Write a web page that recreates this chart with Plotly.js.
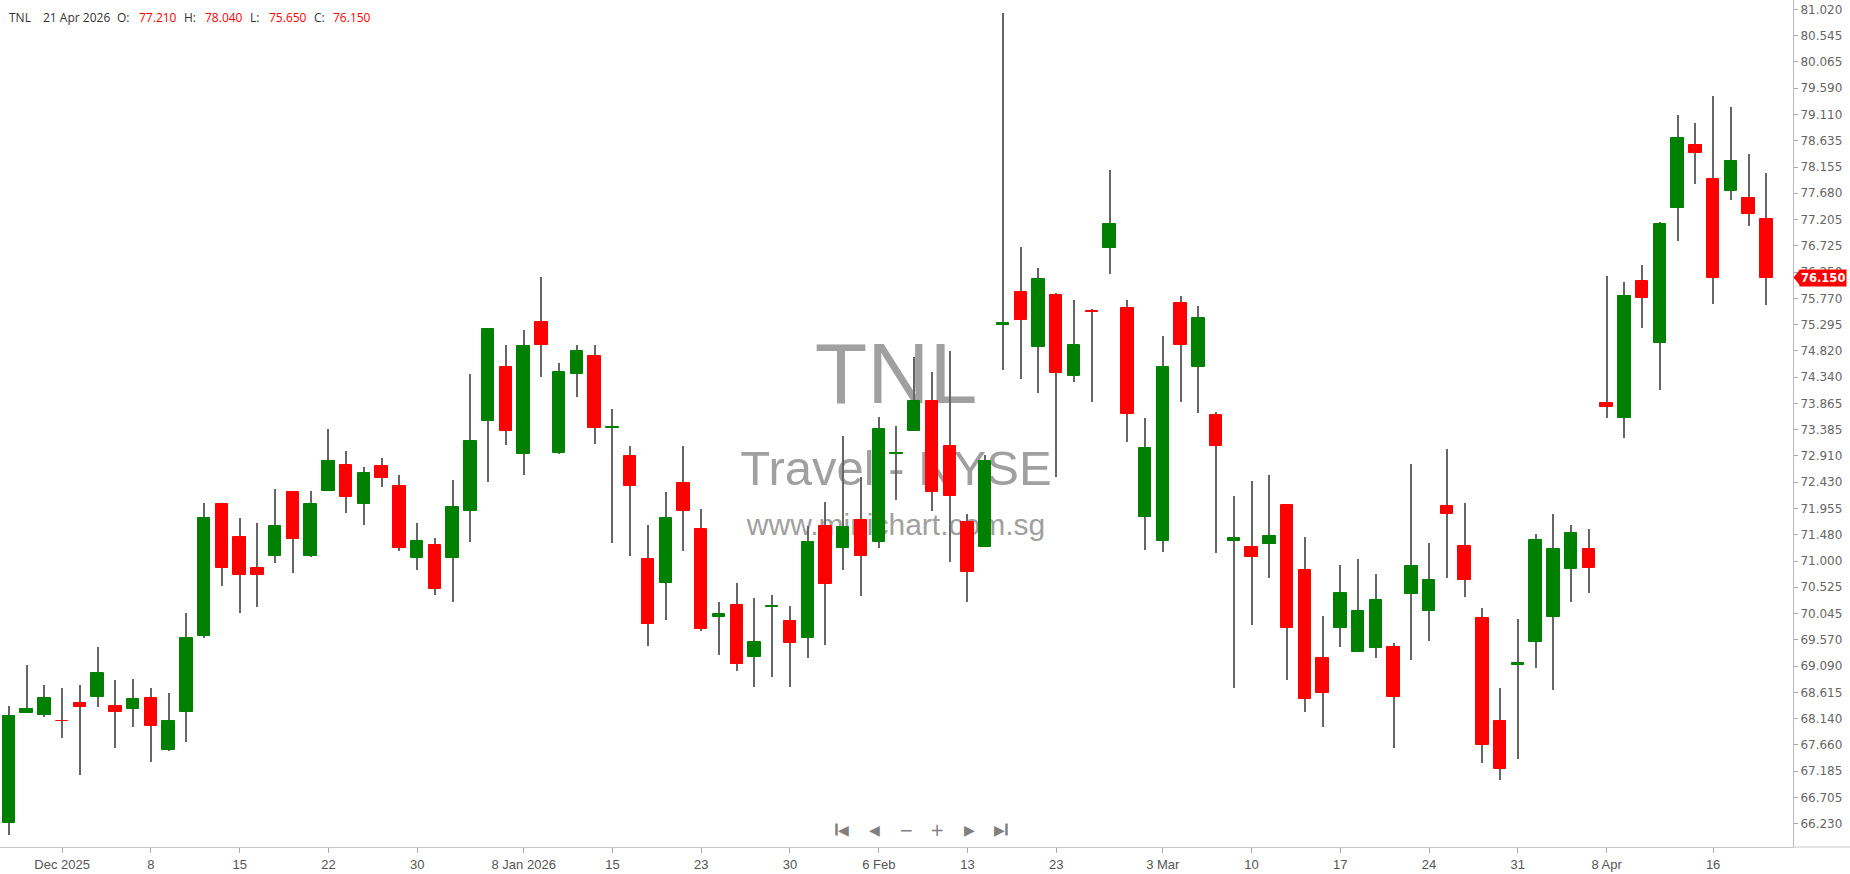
<!DOCTYPE html>
<html>
<head>
<meta charset="utf-8">
<script src="https://cdn.plot.ly/plotly-3.0.1.min.js"></script>
<style>
  html, body { margin: 0; padding: 0; background: #ffffff; }
  #chart { width: 1850px; height: 874px; }
</style>
</head>
<body>
<div id="chart"></div>
<script>
// ---- Data ----
const symbol = "TNL";
const subtitle = "Travel - NYSE";
const website = "www.minichart.com.sg";

const dates = [
  "2025-11-25","2025-11-26","2025-11-28","2025-12-01","2025-12-02","2025-12-03","2025-12-04","2025-12-05",
  "2025-12-08","2025-12-09","2025-12-10","2025-12-11","2025-12-12","2025-12-15","2025-12-16","2025-12-17",
  "2025-12-18","2025-12-19","2025-12-22","2025-12-23","2025-12-24","2025-12-26","2025-12-29","2025-12-30",
  "2025-12-31","2026-01-02","2026-01-05","2026-01-06","2026-01-07","2026-01-08","2026-01-09","2026-01-12",
  "2026-01-13","2026-01-14","2026-01-15","2026-01-16","2026-01-20","2026-01-21","2026-01-22","2026-01-23",
  "2026-01-26","2026-01-27","2026-01-28","2026-01-29","2026-01-30","2026-02-02","2026-02-03","2026-02-04",
  "2026-02-05","2026-02-06","2026-02-09","2026-02-10","2026-02-11","2026-02-12","2026-02-13","2026-02-17",
  "2026-02-18","2026-02-19","2026-02-20","2026-02-23","2026-02-24","2026-02-25","2026-02-26","2026-02-27",
  "2026-03-02","2026-03-03","2026-03-04","2026-03-05","2026-03-06","2026-03-09","2026-03-10","2026-03-11",
  "2026-03-12","2026-03-13","2026-03-16","2026-03-17","2026-03-18","2026-03-19","2026-03-20","2026-03-23",
  "2026-03-24","2026-03-25","2026-03-26","2026-03-27","2026-03-30","2026-03-31","2026-04-01","2026-04-02",
  "2026-04-06","2026-04-07","2026-04-08","2026-04-09","2026-04-10","2026-04-13","2026-04-14","2026-04-15",
  "2026-04-16","2026-04-17","2026-04-20","2026-04-21"
];

const openP = [
  66.25,68.24,68.20,68.10,68.42,68.53,68.37,68.31,
  68.52,67.56,68.26,69.64,72.03,71.44,70.87,71.10,
  72.25,71.10,72.28,72.75,72.03,72.73,72.37,71.06,
  71.30,71.06,71.90,73.54,74.52,72.94,75.34,72.96,
  74.40,74.73,73.41,72.91,71.03,70.60,72.41,71.59,
  69.99,70.20,69.25,70.16,69.91,69.60,71.64,71.23,
  71.75,71.35,72.94,73.37,73.91,73.09,71.70,71.26,
  75.29,75.89,74.88,75.83,74.36,75.54,76.69,75.59,
  71.80,71.37,75.68,74.53,73.65,71.37,71.25,71.31,
  72.02,70.84,69.23,69.78,69.35,69.42,69.44,70.40,
  70.10,72.00,71.27,69.96,68.10,69.12,69.53,69.98,
  70.86,71.22,73.87,73.59,76.08,74.96,77.41,78.56,
  77.94,77.73,77.60,77.21
];
const highP = [
  68.37,69.12,68.75,68.69,68.74,69.44,68.83,68.85,
  68.69,68.60,70.05,72.05,72.05,71.78,71.69,72.30,
  72.27,72.27,73.39,73.00,72.70,72.87,72.57,71.69,
  71.42,72.48,74.39,75.22,74.92,75.20,76.16,74.59,
  74.92,74.92,73.77,73.09,71.65,72.25,73.09,71.94,
  70.25,70.60,70.32,70.38,70.19,71.63,72.08,73.27,
  72.52,73.62,73.46,74.70,74.44,74.81,71.85,72.92,
  80.95,76.71,76.32,75.87,75.75,75.58,78.10,75.75,
  73.59,75.09,75.82,75.63,73.71,72.18,72.45,72.57,
  72.04,71.43,70.01,70.93,71.03,70.76,69.51,72.77,
  71.32,73.03,72.05,70.14,68.69,69.94,71.49,71.85,
  71.65,71.59,76.17,76.06,76.38,77.15,79.10,78.96,
  79.44,79.24,78.40,78.04
];
const lowP = [
  66.02,68.24,68.17,67.79,67.11,68.35,67.60,67.99,
  67.35,67.55,67.72,69.60,70.54,70.06,70.17,70.97,
  70.78,71.07,72.28,71.87,71.65,72.35,71.19,70.84,
  70.39,70.26,71.35,72.44,73.10,72.56,74.35,72.94,
  73.98,73.12,71.33,71.10,69.45,69.93,71.19,69.73,
  69.30,69.00,68.72,68.90,68.72,69.24,69.47,70.83,
  70.36,71.23,72.10,73.37,71.90,70.99,70.26,71.26,
  74.47,74.31,74.05,72.53,74.25,73.89,76.21,73.17,
  71.20,71.17,73.89,73.68,71.15,68.69,69.83,70.69,
  68.83,68.25,67.99,69.44,69.35,69.23,67.60,69.21,
  69.55,70.69,70.35,67.34,67.03,67.40,69.05,68.65,
  70.26,70.41,73.59,73.23,75.23,74.11,76.81,77.84,
  75.66,77.55,77.09,75.65
];
const closeP = [
  68.18,68.31,68.52,68.09,68.35,68.96,68.26,68.49,
  68.01,68.10,69.60,71.78,70.87,70.74,70.74,71.64,
  71.40,72.03,72.81,72.17,72.59,72.51,71.23,71.36,
  70.49,71.98,73.18,75.21,73.37,74.91,74.92,74.43,
  74.81,73.42,73.43,72.37,69.85,71.78,71.90,69.77,
  70.03,69.13,69.52,70.19,69.51,71.35,70.59,71.61,
  71.10,73.40,72.97,73.91,72.25,72.19,70.80,72.82,
  75.33,75.37,76.12,74.42,74.93,75.52,77.13,73.67,
  73.05,74.53,74.92,75.42,73.09,71.41,71.08,71.45,
  69.78,68.49,68.60,70.41,70.09,70.30,68.53,70.91,
  70.66,71.85,70.65,67.65,67.22,69.15,71.39,71.21,
  71.50,70.88,73.80,75.81,75.77,77.13,78.69,78.41,
  76.14,78.26,77.30,76.15
];

// last bar's official OHLC (header)
openP[99] = 77.210; highP[99] = 78.040; lowP[99] = 75.650; closeP[99] = 76.150;

// Price-axis tick labels
const yTickValues = [81.020,80.545,80.065,79.590,79.110,78.635,78.155,77.680,77.205,76.725,76.250,
  75.770,75.295,74.820,74.340,73.865,73.385,72.910,72.430,71.955,71.480,71.000,70.525,70.045,
  69.570,69.090,68.615,68.140,67.660,67.185,66.705,66.230];

// Time-axis tick labels
const xTickDates = ["2025-12-01","2025-12-08","2025-12-15","2025-12-22","2025-12-30","2026-01-08",
  "2026-01-15","2026-01-23","2026-01-30","2026-02-06","2026-02-13","2026-02-23","2026-03-03",
  "2026-03-10","2026-03-17","2026-03-24","2026-03-31","2026-04-08","2026-04-16"];
const xTickLabels = ["Dec 2025","8","15","22","30","8 Jan 2026","15","23","30","6 Feb","13","23",
  "3 Mar","10","17","24","31","8 Apr","16"];

// ---- Build chart ----
const UP = "#008000", DOWN = "#ff0000", WICK = "#666666";
const n = dates.length;
const isUp = closeP.map((c, i) => c >= openP[i]);
const bodyBase = closeP.map((c, i) => Math.min(c, openP[i]));
const bodyLen = closeP.map((c, i) => Math.abs(c - openP[i]));
const wickLen = highP.map((h, i) => h - lowP[i]);
const bodyColors = isUp.map(u => u ? UP : DOWN);

const PLOT_W = 1793, PLOT_H = 847;
const yMin = 65.805, yMax = 81.191;
const px = x => x / PLOT_W;
const py = y => 1 - y / PLOT_H;

const wicks = {
  type: "bar", x: dates, base: lowP, y: wickLen, width: 0.06,
  marker: { color: WICK, line: { width: 0 } },
  hoverinfo: "skip", showlegend: false
};
const bodies = {
  type: "bar", x: dates, base: bodyBase, y: bodyLen, width: 0.7,
  marker: { color: bodyColors, line: { color: bodyColors, width: 1 } },
  customdata: dates.map((d, i) => [openP[i], highP[i], lowP[i], closeP[i]]),
  hovertemplate: "%{x}<br>O %{customdata[0]}<br>H %{customdata[1]}<br>L %{customdata[2]}<br>C %{customdata[3]}<extra></extra>",
  showlegend: false
};

const last = n - 1;
const lastColor = isUp[last] ? UP : DOWN;
const months = ["Jan","Feb","Mar","Apr","May","Jun","Jul","Aug","Sep","Oct","Nov","Dec"];
const ld = dates[last].split("-");
const lastDateText = parseInt(ld[2], 10) + " " + months[parseInt(ld[1], 10) - 1] + " " + ld[0];

const hdrFont = { family: "Open Sans, sans-serif", size: 12, color: "#333333" };
const hdrVal = { family: "Open Sans, sans-serif", size: 12, color: lastColor };
const hdrY = py(17.5);
function hdr(text, xpx, font) {
  return { text: text, xref: "paper", yref: "paper", x: px(xpx), y: hdrY,
    xanchor: "left", yanchor: "middle", showarrow: false, font: font };
}
const annotations = [
  hdr(symbol, 6.5, hdrFont),
  hdr(lastDateText, 40.5, hdrFont),
  hdr("O:", 115, hdrFont), hdr(openP[last].toFixed(3), 137, hdrVal),
  hdr("H:", 182, hdrFont), hdr(highP[last].toFixed(3), 203, hdrVal),
  hdr("L:", 248, hdrFont), hdr(lowP[last].toFixed(3), 267, hdrVal),
  hdr("C:", 312, hdrFont), hdr(closeP[last].toFixed(3), 331, hdrVal),
  // last price tag on the price axis
  { text: "<b>" + closeP[last].toFixed(3) + "</b>", xref: "paper", yref: "y", x: px(1799), y: closeP[last],
    xanchor: "left", yanchor: "middle", showarrow: false, bgcolor: lastColor, borderpad: 1,
    font: { family: "DejaVu Sans, sans-serif", size: 11.5, color: "#ffffff" } }
];
// navigation icons (triangles / signs as text, bars of |◀ and ▶| as small lines)
const navIcons = ["◀", "◀", "−", "+", "▶", "▶"];
const navX = [843.5, 874, 905.5, 937, 969.5, 999.5];
const navY = py(829.5);
navIcons.forEach((t, i) => annotations.push({
  text: t, xref: "paper", yref: "paper", x: px(navX[i]), y: navY,
  xanchor: "center", yanchor: "middle", showarrow: false,
  font: { family: "DejaVu Sans, sans-serif", size: (t === "−" || t === "+") ? 17 : 14, color: "#808080" }
}));

const pxPerPrice = PLOT_H / (yMax - yMin);
const tri = 8 / pxPerPrice;
const shapes = [
  // x-axis line extends under price labels
  { type: "line", xref: "paper", yref: "paper", x0: 1, x1: 1850 / PLOT_W, y0: 0, y1: 0,
    line: { color: "#c8c8c8", width: 1 } },
  // bars of the first / last navigation icons
  { type: "line", xref: "paper", yref: "paper", x0: px(836.5), x1: px(836.5), y0: py(823.5), y1: py(835.5),
    line: { color: "#808080", width: 2.5 } },
  { type: "line", xref: "paper", yref: "paper", x0: px(1006.5), x1: px(1006.5), y0: py(823.5), y1: py(835.5),
    line: { color: "#808080", width: 2.5 } },
  // arrow of the last-price tag
  { type: "path", xref: "paper", yref: "y",
    path: "M " + px(1793.5) + " " + closeP[last] + " L " + px(1800) + " " + (closeP[last] + tri) +
          " L " + px(1800) + " " + (closeP[last] - tri) + " Z",
    fillcolor: lastColor, line: { width: 0 } },
  // watermark (drawn below the candles)
  { type: "rect", xref: "paper", yref: "paper", layer: "below",
    x0: px(696), x1: px(1096), y0: py(400), y1: py(330), line: { width: 0 }, fillcolor: "rgba(0,0,0,0)",
    label: { text: symbol, textposition: "middle center",
      font: { family: "Liberation Sans, Arial, sans-serif", size: 86, color: "#a0a0a0" } } },
  { type: "rect", xref: "paper", yref: "paper", layer: "below",
    x0: px(646), x1: px(1146), y0: py(488), y1: py(438), line: { width: 0 }, fillcolor: "rgba(0,0,0,0)",
    label: { text: subtitle, textposition: "middle center",
      font: { family: "Liberation Sans, Arial, sans-serif", size: 49, color: "#a0a0a0" } } },
  { type: "rect", xref: "paper", yref: "paper", layer: "below",
    x0: px(646), x1: px(1146), y0: py(540), y1: py(502), line: { width: 0 }, fillcolor: "rgba(0,0,0,0)",
    label: { text: website, textposition: "middle center",
      font: { family: "Liberation Sans, Arial, sans-serif", size: 30, color: "#a0a0a0" } } }
];

const layout = {
  width: 1850, height: 874,
  margin: { l: 0, r: 1850 - PLOT_W, t: 0, b: 874 - PLOT_H, pad: 0 },
  paper_bgcolor: "#ffffff", plot_bgcolor: "#ffffff",
  barmode: "overlay", bargap: 0, showlegend: false, dragmode: false,
  xaxis: {
    type: "category", range: [-0.5, n + 0.5],
    tickmode: "array", tickvals: xTickDates, ticktext: xTickLabels,
    ticks: "outside", ticklen: 5, tickcolor: "#aaaaaa", tickwidth: 1,
    showline: true, linecolor: "#c8c8c8", linewidth: 1,
    showgrid: false, zeroline: false, fixedrange: true,
    tickfont: { family: "Liberation Sans Narrow, Arial Narrow, Liberation Sans, sans-serif", size: 13, color: "#555555" }
  },
  yaxis: {
    side: "right", range: [yMin, yMax],
    tickmode: "array", tickvals: yTickValues, ticktext: yTickValues.map(v => v.toFixed(3)),
    ticks: "outside", ticklen: 4, tickcolor: "#aaaaaa", tickwidth: 1,
    showline: true, linecolor: "#bbbbbb", linewidth: 1,
    showgrid: false, zeroline: false, fixedrange: true,
    tickfont: { family: "DejaVu Sans, Verdana, sans-serif", size: 12, color: "#666666" }
  },
  annotations: annotations,
  shapes: shapes
};

Plotly.newPlot("chart", [wicks, bodies], layout, { displayModeBar: false, responsive: false });
</script>
</body>
</html>
